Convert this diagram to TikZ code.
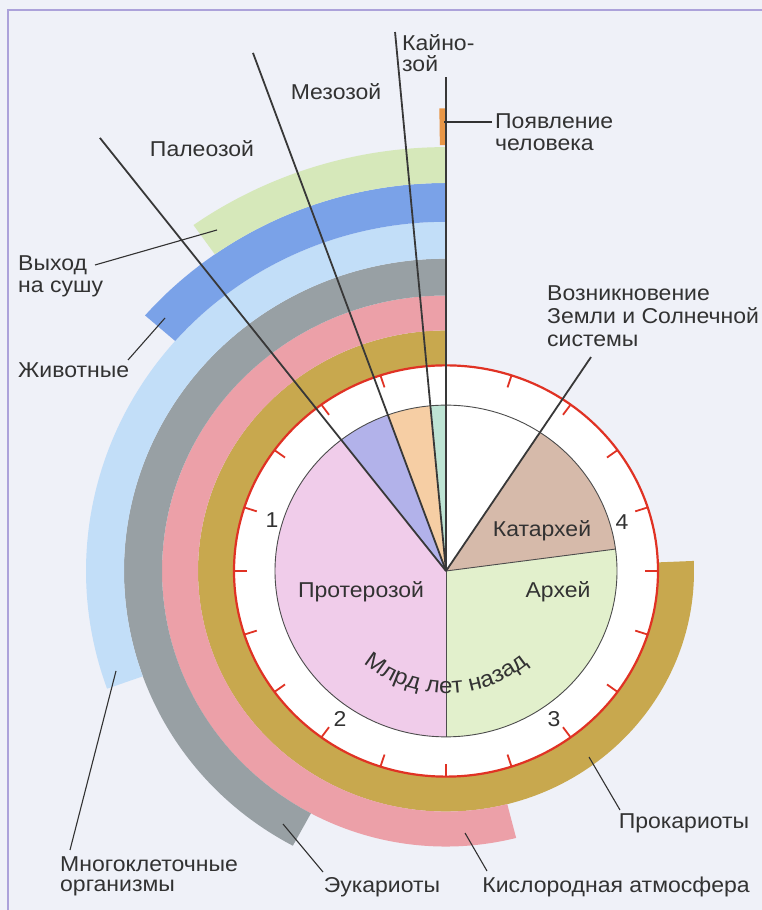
\documentclass[tikz,border=0pt]{standalone}
\usepackage{fontspec}
\setmainfont{Liberation Sans}[FakeStretch=1.07]
\usetikzlibrary{decorations.text}

\definecolor{pagebg}{RGB}{239,241,248}
\definecolor{framecol}{RGB}{172,162,218}
\definecolor{inkcol}{RGB}{50,50,50}
\definecolor{prokcol}{RGB}{200,168,78}
\definecolor{oxycol}{RGB}{236,160,168}
\definecolor{eukcol}{RGB}{152,160,164}
\definecolor{multcol}{RGB}{194,222,248}
\definecolor{animcol}{RGB}{122,162,232}
\definecolor{landcol}{RGB}{214,232,186}
\definecolor{humancol}{RGB}{232,150,70}
\definecolor{clockcol}{RGB}{224,50,36}
\definecolor{kzcol}{RGB}{190,228,212}
\definecolor{mzcol}{RGB}{246,206,164}
\definecolor{pzcol}{RGB}{178,178,234}
\definecolor{prcol}{RGB}{240,204,234}
\definecolor{arcol}{RGB}{226,240,204}
\definecolor{kacol}{RGB}{214,186,170}

\newcommand{\labfont}{\fontsize{21.5}{22}\selectfont}
% colour, start angle, end angle, inner radius, outer radius
\newcommand{\bandseg}[5]{\fill[#1] (#2:#4) arc[start angle=#2, end angle=#3, radius=#4]
    -- (#3:#5) arc[start angle=#3, end angle=#2, radius=#5] -- cycle;}
% colour, start angle, end angle
\newcommand{\piesec}[3]{\fill[#1] (0,0) -- (#2:171) arc[start angle=#2, end angle=#3, radius=171] -- cycle;}

\begin{document}
\begin{tikzpicture}[x=1pt, y=1pt,
    lab/.style={font=\labfont, text=inkcol, inner sep=0pt},
    multiline/.style={lab, align=left, anchor=north west},
    leader/.style={draw=inkcol, line width=1.1pt},
    era/.style={draw=black!78, line width=1.8pt},
    pieline/.style={draw=black!70, line width=0.9pt},
    clocktick/.style={draw=clockcol, line width=1.8pt}
]

% Page
\fill[pagebg] (0,0) rectangle (762,910);
\useasboundingbox (0,0) rectangle (762,910);
\draw[framecol, line width=1.5pt] (8,0) -- (8,900) -- (762,900);

\begin{scope}[shift={(446,339)}, yscale=0.97]
% Life bands
\bandseg{prokcol}{90}{362.4}{212}{248}
\bandseg{oxycol}{90}{284.3}{248}{284}
\bandseg{eukcol}{90}{241.6}{284}{322}
\bandseg{multcol}{90}{199.7}{322}{360}
\bandseg{animcol}{90}{138.8}{360}{400}
\bandseg{landcol}{90}{125.3}{400}{437}
\bandseg{humancol}{90}{90.8}{439}{477}

% Clock face
\fill[white] (0,0) circle[radius=212];

% Eras
\piesec{kzcol}{90}{95.24}
\piesec{mzcol}{95.24}{109.87}
\piesec{pzcol}{109.87}{127.78}
\piesec{prcol}{127.78}{270}
\piesec{arcol}{270}{367.6}
\piesec{kacol}{7.6}{56.68}
\draw[pieline] (0,0) circle[radius=171];
\draw[pieline] (0,0) -- (270:171);
\draw[pieline] (0,0) -- (7.6:171);

% Scale
\draw[clockcol, line width=2.2pt] (0,0) circle[radius=212];
\foreach \k in {0,...,19}
    \draw[clocktick] (90+18*\k:199) -- (90+18*\k:212);

% Era borders
\coordinate (ctr) at (0,0);
\coordinate (now) at (90:509);
\coordinate (kzend) at (95.24:558);
\coordinate (mzend) at (109.87:568);
\coordinate (pzend) at (127.78:565);
\coordinate (start) at (56.68:264);
\draw[era] (ctr) -- (now);
\draw[era] (ctr) -- (kzend);
\draw[era] (ctr) -- (mzend);
\draw[era] (ctr) -- (pzend);
\draw[era] (ctr) -- (start);

% Scale caption
\path[decorate, decoration={text along path, text align=center,
    text={|\fontsize{22.5}{23}\selectfont\color{inkcol}|Млрд лет назад}}]
    (200:126) arc[start angle=200, end angle=340, radius=126];
\end{scope}

% Scale numbers
\node[lab, anchor=base] (n1) at (272,382) {1};
\node[lab, anchor=base] (n2) at (340,183) {2};
\node[lab, anchor=base] (n3) at (554,183) {3};
\node[lab, anchor=base] (n4) at (622,380) {4};

% Era names
\node[lab, anchor=base] (prot) at (361,312) {Протерозой};
\node[lab, anchor=base] (arch) at (558,312) {Архей};
\node[lab, anchor=base] (kat) at (542,373) {Катархей};
\node[multiline, font=\fontsize{21.5}{21}\selectfont] (kz) at (402,876) {Кайно-\\зой};
\node[lab, anchor=base] (mz) at (336,810) {Мезозой};
\node[lab, anchor=base] (pz) at (202,753) {Палеозой};

% Events
\node[multiline] (human) at (495,796) {Появление\\человека};
\node[multiline, font=\fontsize{21.5}{23}\selectfont] (earth) at (547,624) {Возникновение\\Земли и Солнечной\\системы};
\node[multiline] (land) at (18,654) {Выход\\на сушу};
\node[lab, anchor=base west] (anim) at (18,532) {Животные};
\node[multiline, font=\fontsize{21.5}{20}\selectfont] (mult) at (60,53) {Многоклеточные\\организмы};
\node[lab, anchor=base] (euk) at (382,17) {Эукариоты};
\node[lab, anchor=base] (oxy) at (616,17) {Кислородная атмосфера};
\node[lab, anchor=base] (prok) at (684,81) {Прокариоты};

% Leaders
\coordinate (humanA) at (492,788);
\coordinate (humanB) at (444,788);
\coordinate (landA) at (95,645);
\coordinate (landB) at (217,680);
\coordinate (animA) at (128,550);
\coordinate (animB) at (165,592);
\coordinate (multA) at (70,60);
\coordinate (multB) at (116,239);
\coordinate (eukA) at (323,38);
\coordinate (eukB) at (283,86);
\coordinate (oxyA) at (487,39);
\coordinate (oxyB) at (465,77);
\coordinate (prokA) at (620,100);
\coordinate (prokB) at (589,153);
\draw[leader] (humanA) -- (humanB);
\draw[leader] (landA) -- (landB);
\draw[leader] (animA) -- (animB);
\draw[leader] (multA) -- (multB);
\draw[leader] (eukA) -- (eukB);
\draw[leader] (oxyA) -- (oxyB);
\draw[leader] (prokA) -- (prokB);

\end{tikzpicture}
\end{document}
